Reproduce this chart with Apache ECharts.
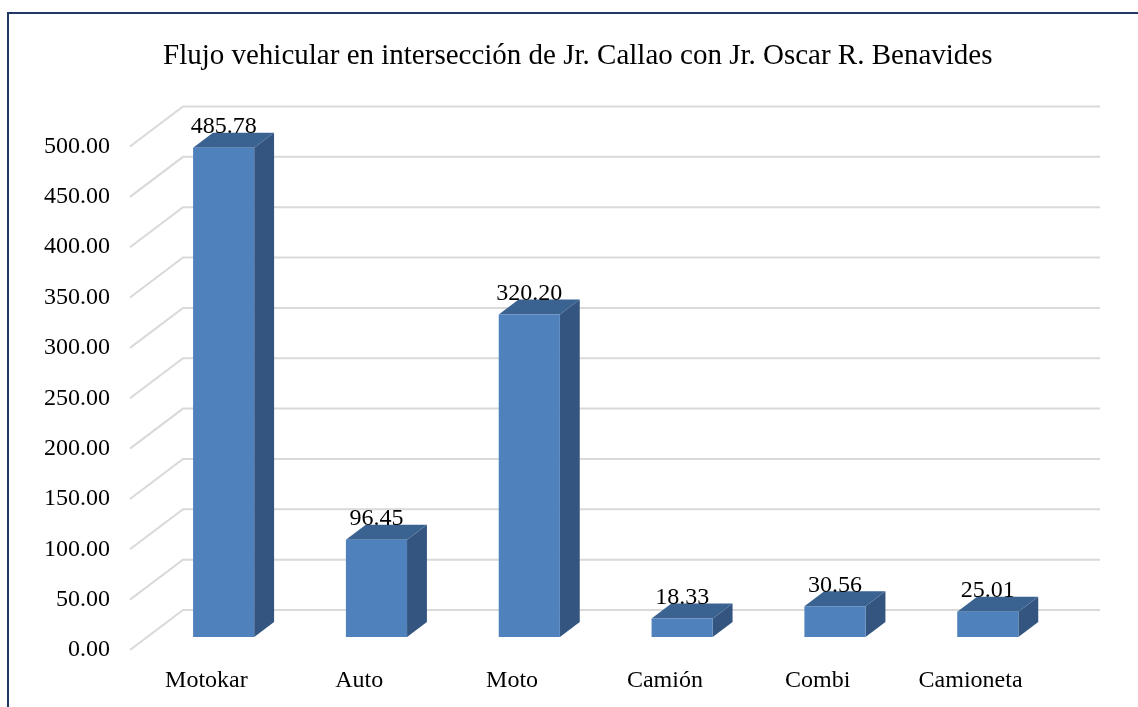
<!DOCTYPE html>
<html>
<head>
<meta charset="utf-8">
<script src="https://cdn.jsdelivr.net/npm/echarts@6/dist/echarts.min.js"></script>
<style>
    html, body { margin: 0; padding: 0; background: #fff; }
    #chart { width: 1138px; height: 707px; }
</style>
</head>
<body>
<div id="chart"></div>
<script>
    const categories = ['Motokar', 'Auto', 'Moto', 'Camión', 'Combi', 'Camioneta'];
    const values = [485.78, 96.45, 320.20, 18.33, 30.56, 25.01];
    const yTicks = [0, 50, 100, 150, 200, 250, 300, 350, 400, 450, 500];

    // perspective of the 3D box: full depth offset, and where the bar sits in it
    const depth = [53, -40];
    const barFront = 0.325, barBack = 0.7;
    const barRatio = 0.4;
    const font = '"Liberation Serif", "Times New Roman", serif';

    const colFront = '#4f81bd', colTop = '#3b6392', colSide = '#33557f';

    const wallItem = (params, api) => {
        const cs = params.coordSys;
        const y = api.coord([0, api.value(1)])[1];
        const x0 = cs.x, x1 = cs.x + cs.width;
        return {
            type: 'polyline',
            shape: {
                points: [[x0, y], [x0 + depth[0], y + depth[1]], [x1 + depth[0], y + depth[1]]]
            },
            style: { stroke: '#d9d9d9', lineWidth: 2, fill: null }
        };
    };

    const barItem = (params, api) => {
        const base = api.coord([api.value(0), 0]);
        const top = api.coord([api.value(0), api.value(1)]);
        const w = api.size([1, 0])[0] * barRatio;
        const fx = depth[0] * barFront, fy = depth[1] * barFront;
        const bx = depth[0] * barBack, by = depth[1] * barBack;
        const x0 = base[0] - w / 2, x1 = base[0] + w / 2;
        const yb = base[1], yt = top[1];
        return {
            type: 'group',
            children: [
                {
                    type: 'polygon',
                    shape: { points: [[x1 + fx, yb + fy], [x1 + fx, yt + fy], [x1 + bx, yt + by], [x1 + bx, yb + by]] },
                    style: { fill: colSide }
                },
                {
                    type: 'polygon',
                    shape: { points: [[x0 + fx, yt + fy], [x1 + fx, yt + fy], [x1 + bx, yt + by], [x0 + bx, yt + by]] },
                    style: { fill: colTop }
                },
                {
                    type: 'rect',
                    shape: { x: x0 + fx, y: yt + fy, width: w, height: yb - yt },
                    style: { fill: colFront }
                },
                {
                    type: 'text',
                    x: base[0] + fx,
                    y: yt + by + 6,
                    style: {
                        text: api.value(1).toFixed(2),
                        align: 'center',
                        verticalAlign: 'bottom',
                        font: '24px ' + font,
                        fill: '#000'
                    }
                }
            ]
        };
    };

    const chart = echarts.init(document.getElementById('chart'));
    chart.setOption({
        animation: false,
        backgroundColor: '#fff',
        title: {
            text: 'Flujo vehicular en intersección de Jr. Callao con Jr. Oscar R. Benavides',
            left: 158,
            top: 37,
            textStyle: { fontFamily: font, fontSize: 29, fontWeight: 'normal', color: '#000' }
        },
        graphic: [{
            type: 'polyline',
            shape: { points: [[8, 720], [8, 13], [1150, 13]] },
            style: { stroke: '#1f3864', lineWidth: 2, fill: null }
        }],
        grid: { left: 130, right: 91, top: 146.5, bottom: 57 },
        xAxis: {
            type: 'category',
            data: categories,
            axisLine: { show: false },
            axisTick: { show: false },
            axisLabel: { margin: 19, fontFamily: font, fontSize: 24, color: '#000' }
        },
        yAxis: {
            type: 'value',
            min: 0,
            max: 500,
            interval: 50,
            axisLine: { show: false },
            axisTick: { show: false },
            splitLine: { show: false },
            axisLabel: {
                margin: 20,
                fontFamily: font,
                fontSize: 24,
                color: '#000',
                formatter: v => v.toFixed(2)
            }
        },
        series: [
            {
                type: 'custom',
                renderItem: wallItem,
                encode: { x: 0, y: 1 },
                data: yTicks.map(t => [0, t]),
                z: 1
            },
            {
                type: 'custom',
                renderItem: barItem,
                encode: { x: 0, y: 1 },
                data: values.map((v, i) => [i, v]),
                z: 2
            }
        ]
    });
</script>
</body>
</html>
